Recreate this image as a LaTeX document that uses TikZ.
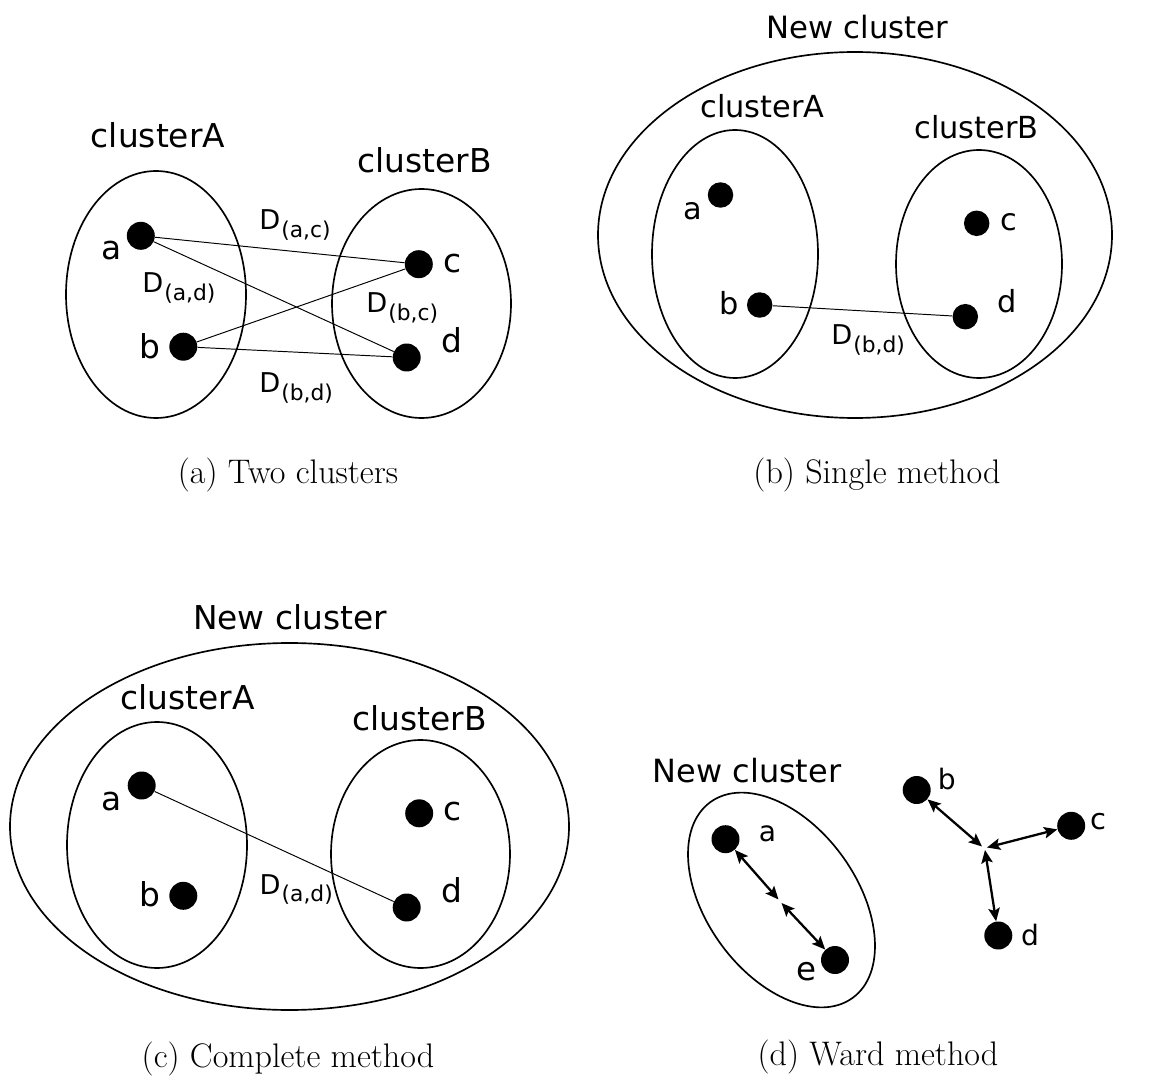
\documentclass[tikz,border=0pt]{standalone}
\usepackage{fontspec}
\newfontfamily\dv{DejaVu Sans}
\usetikzlibrary{arrows.meta}
\tikzset{
 cl/.style={line width=0.95pt},
 dotA/.style={circle, fill=black, inner sep=0pt, minimum size=0.56cm},
 dotB/.style={circle, fill=black, inner sep=0pt, minimum size=0.51cm},
 lbl/.style={anchor=base, inner sep=0pt, font=\dv\fontsize{18.7}{22}\selectfont},
 lblB/.style={anchor=base, inner sep=0pt, font=\dv\fontsize{17.3}{20}\selectfont},
 dl/.style={anchor=base west, inner sep=0pt, font=\dv\fontsize{15.5}{18}\selectfont},
 conn/.style={line width=0.55pt},
 warr/.style={line width=1.3pt, {Stealth[length=7.5pt,width=6.5pt,inset=1.5pt]}-{Stealth[length=7.5pt,width=6.5pt,inset=1.5pt]}},
 capt/.style={anchor=base, inner sep=0pt, font=\fontsize{19.4}{23}\selectfont},
}
\newcommand{\Dsub}[1]{D\kern0.6pt\raisebox{-4.5pt}{\fontsize{12.4}{14}\selectfont(#1)}}
\begin{document}
\begin{tikzpicture}[x=0.02cm,y=-0.02cm]
\useasboundingbox (0,0) rectangle (1157,1081);
% ---------- (a)
\draw[cl] (156,294.5) ellipse [x radius=90, y radius=123.5];
\draw[cl] (421.5,303.5) ellipse [x radius=89.5, y radius=114.5];
\node[lbl] (tA1) at (158,148) {clusterA};
\node[lbl] (tB1) at (424.5,173) {clusterB};
\node[dotA] (a1) at (140.8,235.8) {};
\node[dotA] (b1) at (183.3,346.7) {};
\node[dotA] (c1) at (418.8,264.2) {};
\node[dotA] (d1) at (406.7,357.5) {};
\node[lbl] (la1) at (112,260) {a};
\node[lbl] (lb1) at (150,358) {b};
\node[lbl] (lc1) at (453,273) {c};
\node[lbl] (ld1) at (452,353) {d};
\draw[conn] (a1) -- (c1);
\draw[conn] (a1) -- (d1);
\draw[conn] (b1) -- (c1);
\draw[conn] (b1) -- (d1);
\node[dl] (dac1) at (259,230) {\Dsub{a,c}};
\node[dl] (dad1) at (142,293) {\Dsub{a,d}};
\node[dl] (dbc1) at (366,313) {\Dsub{b,c}};
\node[dl] (dbd1) at (259,393) {\Dsub{b,d}};
\node[capt] (capa) at (288,483) {(a) Two clusters};
% ---------- (b)
\draw[cl] (855,235) ellipse [x radius=257, y radius=183];
\draw[cl] (735,254) ellipse [x radius=83, y radius=124];
\draw[cl] (979,264) ellipse [x radius=83, y radius=114];
\node[lblB, font=\dv\fontsize{17.5}{20}\selectfont] (tN2) at (857.5,39) {New cluster};
\node[lblB] (tA2) at (762.5,118) {clusterA};
\node[lblB] (tB2) at (976.5,139) {clusterB};
\node[dotB] (a2) at (720.5,195) {};
\node[dotB] (b2) at (759.7,305) {};
\node[dotB] (c2) at (976.7,223.3) {};
\node[dotB] (d2) at (965.3,316.7) {};
\node[lblB] (la2) at (693,220) {a};
\node[lblB] (lb2) at (729.5,315) {b};
\node[lblB] (lc2) at (1008.5,231) {c};
\node[lblB] (ld2) at (1007.5,313) {d};
\draw[conn] (b2) -- (d2);
\node[dl] (dbd2) at (831,345) {\Dsub{b,d}};
\node[capt] (capb) at (877,483) {(b) Single method};
% ---------- (c)
\draw[cl] (289.5,826.5) ellipse [x radius=279.5, y radius=183.5];
\draw[cl] (157,845) ellipse [x radius=90, y radius=123];
\draw[cl] (420.5,854) ellipse [x radius=89.5, y radius=114];
\node[lbl] (tN3) at (290,629) {New cluster};
\node[lbl] (tA3) at (187.5,709) {clusterA};
\node[lbl] (tB3) at (419.5,730) {clusterB};
\node[dotA] (a3) at (141.7,785.5) {};
\node[dotA] (b3) at (183.3,895.8) {};
\node[dotA] (c3) at (419.2,813.3) {};
\node[dotA] (d3) at (406.7,907.5) {};
\node[lbl] (la3) at (111.7,810) {a};
\node[lbl] (lb3) at (150,906.7) {b};
\node[lbl] (lc3) at (453,820) {c};
\node[lbl] (ld3) at (452,902.7) {d};
\draw[conn] (a3) -- (d3);
\node[dl] (dad3) at (259.3,894) {\Dsub{a,d}};
\node[capt] (capc) at (288,1067) {(c) Complete method};
% ---------- (d)
\draw[cl, rotate around={-54:(781.5,900)}] (781.5,900) ellipse [x radius=121, y radius=75];
\node[lbl, font=\dv\fontsize{18.2}{21}\selectfont] (tN4) at (747,782) {New cluster};
\node[dotA] (a4) at (725.5,839.2) {};
\node[dotA] (e4) at (835,960) {};
\node[dotA] (b4) at (916.7,790) {};
\node[dotA] (c4) at (1071.2,825.8) {};
\node[dotA] (d4) at (998.3,935.5) {};
\node[lbl, font=\dv\fontsize{16}{19}\selectfont] (la4) at (767.5,841.7) {a};
\node[lbl, font=\dv\fontsize{18.5}{21}\selectfont] (le4) at (806.7,980) {e};
\node[lbl, font=\dv\fontsize{16}{19}\selectfont] (lb4) at (946.7,789.3) {b};
\node[lbl, font=\dv\fontsize{16.5}{19}\selectfont] (lc4) at (1098,829.3) {c};
\node[lbl, font=\dv\fontsize{16}{19}\selectfont] (ld4) at (1030,945) {d};
\coordinate (m1a) at (778.5,899.5);
\coordinate (m1b) at (781.5,903);
\coordinate (m2b) at (982,846.5);
\coordinate (m2c) at (987,847.5);
\coordinate (m2d) at (985,850);
\draw[warr] (a4) -- (m1a);
\draw[warr] (m1b) -- (e4);
\draw[warr] (b4) -- (m2b);
\draw[warr] (c4) -- (m2c);
\draw[warr] (d4) -- (m2d);
\node[capt] (capd) at (878,1065) {(d) Ward method};
\end{tikzpicture}
\end{document}
